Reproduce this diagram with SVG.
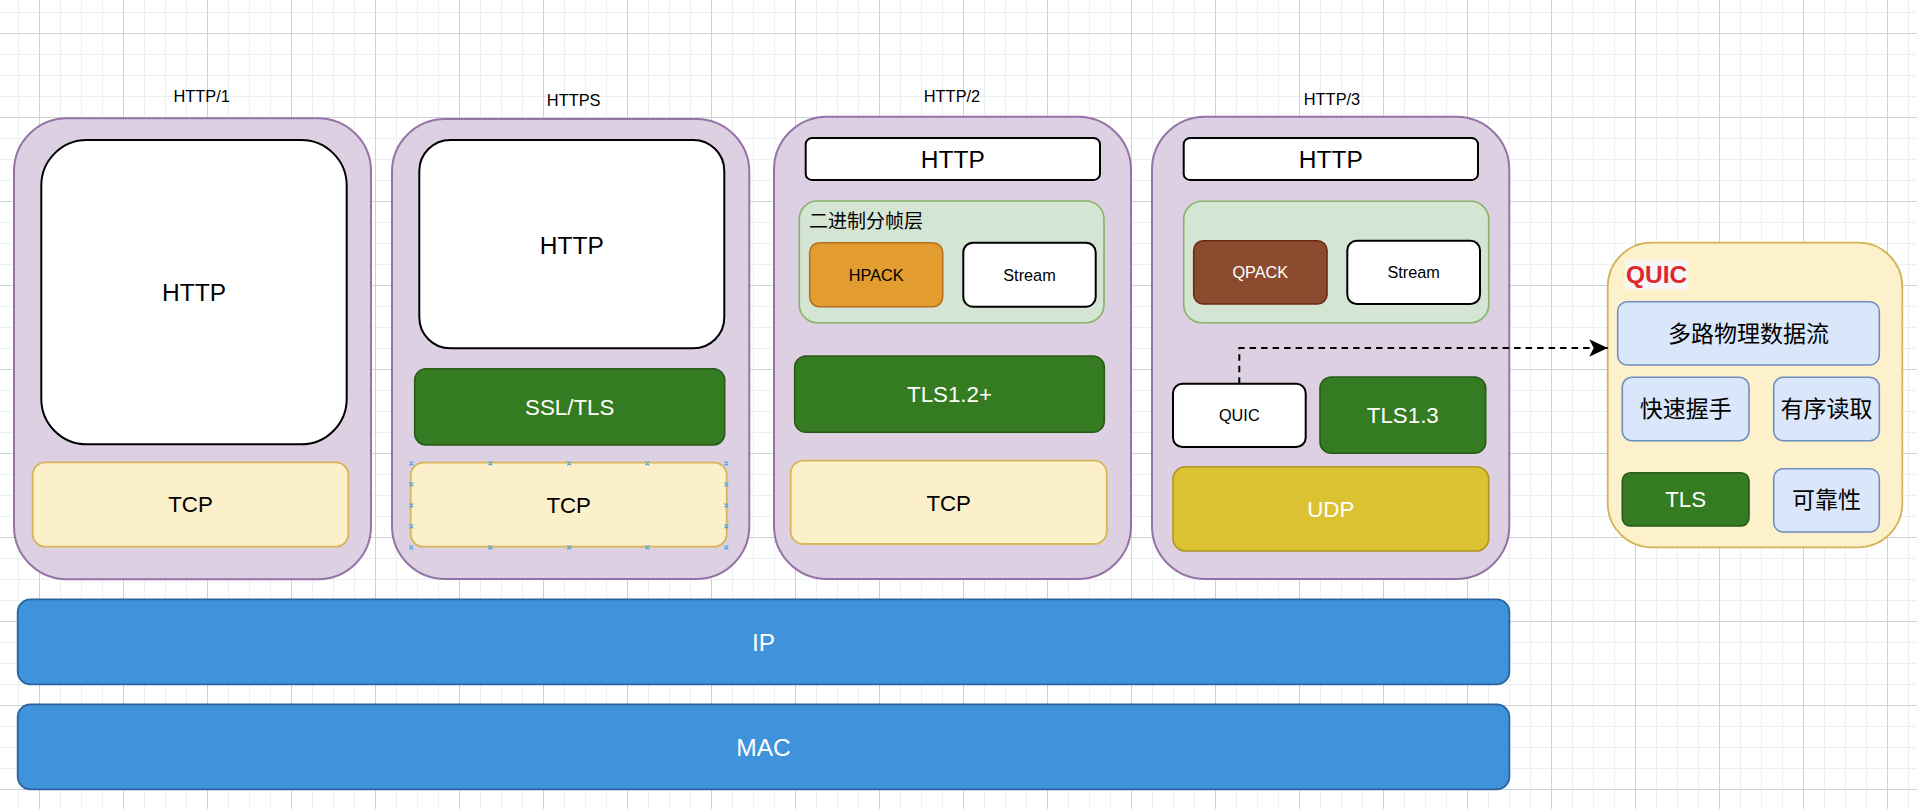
<svg xmlns="http://www.w3.org/2000/svg" width="1917" height="809" viewBox="0 0 1917 809">
<style>
.t{font-family:"Liberation Sans","Noto Sans CJK SC",Arial,sans-serif;text-anchor:middle}
.cont{fill:#dcd0e2;stroke:#9673a6;stroke-width:2}
.white{fill:#ffffff;stroke:#000000;stroke-width:2}
.tcp{fill:#fcf0cb;stroke:#d6b656;stroke-width:1.8}
.green{fill:#357b21;stroke:#285a19;stroke-width:1.6}
.frame{fill:#d5e5d3;stroke:#86b36a;stroke-width:1.6}
.blue{fill:#dae6fa;stroke:#6d8ebf;stroke-width:1.6}
.lbl{font-size:16.4px;fill:#000}
.big{font-size:24.5px}
.mid{font-size:22.3px}
.sm{font-size:16.3px}
.cjk{font-size:23px;fill:#000}
.w{fill:#ffffff}
.k{fill:#000000}
</style>
<defs>
<pattern id="grid" patternUnits="userSpaceOnUse" x="39" y="33" width="84" height="84">
<rect x="0" y="0" width="84" height="84" fill="#ffffff"/>
<g fill="#eaf0f0">
<rect x="21" y="0" width="1" height="84"/><rect x="42" y="0" width="1" height="84"/><rect x="63" y="0" width="1" height="84"/>
<rect x="0" y="21" width="84" height="1"/><rect x="0" y="42" width="84" height="1"/><rect x="0" y="63" width="84" height="1"/>
</g>
<g fill="#c9d5d4">
<rect x="0" y="0" width="1" height="84"/><rect x="0" y="0" width="84" height="1"/>
</g>
</pattern>
<marker id="arr" markerUnits="userSpaceOnUse" markerWidth="22" markerHeight="22" viewBox="0 0 22 22" refX="19.5" refY="11" orient="auto">
<path d="M1,2.2 L19.5,11 L1,19.8 L5.5,11 Z" fill="#000"/>
</marker>
</defs>
<rect x="0" y="0" width="1917" height="809" fill="url(#grid)"/>

<g id="http1">
<text class="t lbl" x="201.7" y="102.3">HTTP/1</text>
<rect class="cont" x="14" y="118.3" width="357" height="461" rx="53"/>
<rect class="white" x="41.3" y="140" width="305.4" height="304.3" rx="45.6"/>
<text class="t big k" x="194" y="301">HTTP</text>
<rect class="tcp" x="32.7" y="462.3" width="315.6" height="84.4" rx="12.6"/>
<text class="t mid k" x="190.5" y="512.3">TCP</text>
</g>

<g id="https">
<text class="t lbl" x="573.7" y="105.7">HTTPS</text>
<rect class="cont" x="392" y="119" width="357.3" height="460" rx="53"/>
<rect class="white" x="419.3" y="140" width="305" height="208.3" rx="31"/>
<text class="t big k" x="571.8" y="253.5">HTTP</text>
<rect class="green" x="414.7" y="368.7" width="310" height="76.3" rx="11.4"/>
<text class="t mid w" x="569.7" y="414.6">SSL/TLS</text>
<rect class="tcp" x="410.7" y="462.7" width="316" height="84" rx="12.6"/>
<text class="t mid k" x="568.7" y="512.5">TCP</text>
<path stroke="#4ba3e0" stroke-width="1.1" fill="none" d="M409.3,461.3l4,4m0,-4l-4,4 M488.3,461.3l4,4m0,-4l-4,4 M567.3,461.3l4,4m0,-4l-4,4 M645.3,461.3l4,4m0,-4l-4,4 M724.3,461.3l4,4m0,-4l-4,4 M409.3,545.3l4,4m0,-4l-4,4 M488.3,545.3l4,4m0,-4l-4,4 M567.3,545.3l4,4m0,-4l-4,4 M645.3,545.3l4,4m0,-4l-4,4 M724.3,545.3l4,4m0,-4l-4,4 M409.3,482.3l4,4m0,-4l-4,4 M409.3,503.3l4,4m0,-4l-4,4 M409.3,524.3l4,4m0,-4l-4,4 M724.3,482.3l4,4m0,-4l-4,4 M724.3,503.3l4,4m0,-4l-4,4 M724.3,524.3l4,4m0,-4l-4,4"/>
</g>

<g id="http2">
<text class="t lbl" x="952" y="102.3">HTTP/2</text>
<rect class="cont" x="774" y="116.7" width="357" height="462.3" rx="53"/>
<rect class="white" x="805.7" y="138" width="294.3" height="42" rx="6.3"/>
<text class="t big k" x="952.8" y="168">HTTP</text>
<rect class="frame" x="799.3" y="201" width="304.7" height="121.7" rx="18"/>
<text class="t k" style="text-anchor:start;font-size:19px" x="809" y="227.5">二进制分帧层</text>
<rect x="809.7" y="242.7" width="133" height="64" rx="9.6" fill="#e29c2f" stroke="#b3701d" stroke-width="1.6"/>
<text class="t sm k" x="876.2" y="280.7">HPACK</text>
<rect class="white" x="963.3" y="242.7" width="132.4" height="64" rx="9.6"/>
<text class="t sm k" x="1029.5" y="280.7">Stream</text>
<rect class="green" x="794.7" y="356" width="309.6" height="76.3" rx="11.4"/>
<text class="t mid w" x="949.5" y="402.2">TLS1.2+</text>
<rect class="tcp" x="790.7" y="460.7" width="316" height="83.3" rx="12.5"/>
<text class="t mid k" x="948.7" y="511">TCP</text>
</g>

<g id="http3">
<text class="t lbl" x="1332" y="105">HTTP/3</text>
<rect class="cont" x="1152" y="116.7" width="357.3" height="462.3" rx="53"/>
<rect class="white" x="1183.7" y="138" width="294.3" height="42" rx="6.3"/>
<text class="t big k" x="1330.8" y="168">HTTP</text>
<rect class="frame" x="1183.7" y="201.3" width="305" height="121.4" rx="18"/>
<rect x="1193.7" y="240.7" width="133.3" height="63.3" rx="9.5" fill="#8c4b2e" stroke="#6b2915" stroke-width="1.6"/>
<text class="t sm w" x="1260.3" y="278.2">QPACK</text>
<rect class="white" x="1347.3" y="240.7" width="132.7" height="63.3" rx="9.5"/>
<text class="t sm k" x="1413.7" y="278.2">Stream</text>
<rect class="white" x="1173" y="383.7" width="132.7" height="63.3" rx="9.5"/>
<text class="t sm k" x="1239.3" y="421.2">QUIC</text>
<rect class="green" x="1320" y="377" width="165.7" height="76.3" rx="11.4"/>
<text class="t mid w" x="1402.8" y="423.2">TLS1.3</text>
<rect x="1173" y="466.7" width="315.7" height="84.3" rx="12.6" fill="#dbc232" stroke="#ae9626" stroke-width="1.6"/>
<text class="t mid w" x="1330.8" y="516.8">UDP</text>
</g>

<g id="ip">
<rect x="17.7" y="599.3" width="1491.7" height="85" rx="12.7" fill="#3f93da" stroke="#2a62a0" stroke-width="1.8"/>
<text class="t big w" x="763.5" y="650.6">IP</text>
</g>

<g id="mac">
<rect x="17.7" y="704.3" width="1491.7" height="85" rx="12.7" fill="#3f93da" stroke="#2a62a0" stroke-width="1.8"/>
<text class="t big w" x="763.5" y="755.6">MAC</text>
</g>

<g id="quic">
<rect x="1607.7" y="242.7" width="294.6" height="304.6" rx="44" fill="#fdf1cb" stroke="#d2b456" stroke-width="1.8"/>
<rect x="1625" y="260" width="62.7" height="29.3" fill="#f6f6f6"/>
<text class="t" style="text-anchor:start;font-size:24.5px;font-weight:bold;fill:#e3262d" x="1626" y="282.7">QUIC</text>
<rect class="blue" x="1617.7" y="301.7" width="261.6" height="63.3" rx="9.5"/>
<text class="t cjk" x="1748.5" y="342">多路物理数据流</text>
<rect class="blue" x="1622.3" y="377.3" width="126.7" height="63.4" rx="9.5"/>
<text class="t cjk" x="1685.7" y="417">快速握手</text>
<rect class="blue" x="1773.7" y="377.3" width="105.6" height="63.4" rx="9.5"/>
<text class="t cjk" x="1826.5" y="417">有序读取</text>
<rect class="green" x="1622.3" y="472.7" width="126.7" height="53.3" rx="8"/>
<text class="t mid w" x="1685.7" y="507.3">TLS</text>
<rect class="blue" x="1773.7" y="468.7" width="105.6" height="63.3" rx="9.5"/>
<text class="t cjk" x="1826.5" y="507.5">可靠性</text>
</g>

<g id="connectors">
<path d="M1239.3,383.7 V348 H1607.7" fill="none" stroke="#000" stroke-width="2" stroke-dasharray="6.5 5" marker-end="url(#arr)"/>
</g>
</svg>
